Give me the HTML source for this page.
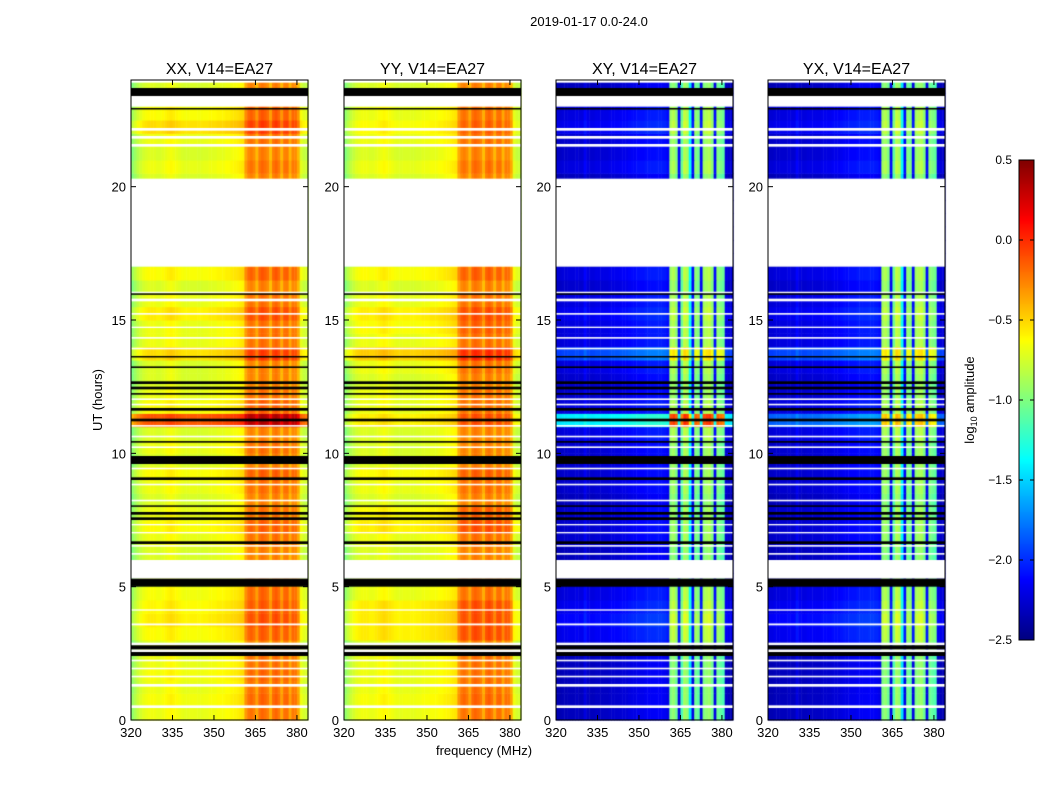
<!DOCTYPE html>
<html><head><meta charset="utf-8">
<style>
body{margin:0;background:#fff;width:1050px;height:800px;overflow:hidden;font-family:"Liberation Sans",sans-serif;}
#root{position:relative;width:1050px;height:800px;}
canvas{position:absolute;}
svg{position:absolute;left:0;top:0;}
</style></head>
<body>
<div id="root">
<canvas id="hm" width="1050" height="800" style="left:0;top:0"></canvas>
<svg id="ov" width="1050" height="800"></svg>
</div>
<script>
// ---- data ----
const panelTitles = ["XX, V14=EA27","YY, V14=EA27","XY, V14=EA27","YX, V14=EA27"];
const xTicks = [320,335,350,365,380];
const yTicks = [0,5,10,15,20];
const cbTicks = [0.5,0.0,-0.5,-1.0,-1.5,-2.0,-2.5];
const cbTickLabels = ["0.5","0.0","\u22120.5","\u22121.0","\u22121.5","\u22122.0","\u22122.5"];
// channel frequencies 320..383 (1 MHz)
const freqs = [320,321,322,323,324,325,326,327,328,329,330,331,332,333,334,335,336,337,338,339,340,341,342,343,344,345,346,347,348,349,350,351,352,353,354,355,356,357,358,359,360,361,362,363,364,365,366,367,368,369,370,371,372,373,374,375,376,377,378,379,380,381,382,383];
// parallel-hand spectral profile (log10 amp)
const parProfile = [-1.0,-0.92,-0.85,-0.8,-0.76,-0.74,-0.72,-0.72,-0.72,-0.74,-0.74,-0.72,-0.7,-0.68,-0.66,-0.68,-0.7,-0.72,-0.74,-0.75,-0.75,-0.74,-0.74,-0.74,-0.75,-0.75,-0.74,-0.74,-0.72,-0.72,-0.72,-0.7,-0.7,-0.7,-0.68,-0.68,-0.66,-0.65,-0.64,-0.62,-0.6,-0.38,-0.28,-0.25,-0.3,-0.42,-0.26,-0.22,-0.25,-0.3,-0.44,-0.26,-0.22,-0.28,-0.42,-0.26,-0.25,-0.42,-0.28,-0.3,-0.42,-0.75,-0.8,-0.82];
// cross-hand spectral profile
const crossProfile = [-2.35,-2.35,-2.33,-2.33,-2.32,-2.32,-2.32,-2.3,-2.32,-2.32,-2.22,-2.3,-2.32,-2.32,-2.3,-2.3,-2.3,-2.3,-2.3,-2.28,-2.27,-2.27,-2.27,-2.25,-2.24,-2.24,-2.22,-2.2,-2.2,-2.18,-2.18,-2.18,-2.16,-2.15,-2.15,-2.15,-2.14,-2.14,-2.15,-2.16,-2.2,-1.0,-0.95,-1.05,-2.2,-1.15,-0.9,-0.95,-1.45,-2.2,-1.05,-1.1,-2.2,-1.0,-0.95,-0.92,-1.05,-2.2,-1.05,-1.1,-1.15,-2.3,-2.33,-2.35];
// row level offsets per half-hour (48 slots, 0..24h)
const rowXX = [0.05,0.08,0.05,0.08,0.05,0.0,0.1,0.15,0.12,0.08,0,0,0,0.05,0.1,0.05,0.0,0.05,0.1,0,0.05,0,0.6,0.1,0.05,0,0,0.2,0.05,0.05,0.15,0.05,0,0.1,0,0,0,0,0,0,0,0.05,0,0.05,0.2,0.1,0.05,0];
const rowYY = [0.05,0.08,0.05,0.05,0.05,0.0,0.15,0.15,0.15,0.05,0,0,0,0.05,0.15,0.1,0.0,0.05,0.1,0,0,0,0.15,0.05,0.05,0,0.05,0.25,0.05,0.1,0.15,0.05,0,0.1,0,0,0,0,0,0,0,0.05,0,0.05,0.1,0.05,0.05,0];
const rowXY = [0,0,0,0,0,0.1,0.15,0.2,0.15,0.1,0,0,0,0.05,0.05,0.05,0,0.05,0.05,0.05,0.05,0.1,0.9,0.1,0.05,0.05,0.1,0.4,0.1,0.1,0.15,0.1,0.05,0.1,0,0,0,0,0,0,0,0.1,0.05,0.05,0.15,0.1,0.05,0];
const rowYX = [0,0,0,0,0,0.1,0.15,0.2,0.15,0.1,0,0,0,0.05,0.05,0.05,0,0.05,0.05,0.05,0.05,0.1,0.5,0.1,0.05,0.05,0.1,0.4,0.1,0.1,0.15,0.1,0.05,0.1,0,0,0,0,0,0,0,0.1,0.05,0.05,0.15,0.1,0.05,0];
// flagged time ranges (hours): white = no data, black = masked
const whiteFlags = [[0.45,0.55],[1.25,1.35],[1.6,1.66],[1.9,1.96],[2.2,2.26],[2.55,2.65],[2.8,2.9],[3.55,3.62],[4.1,4.15],[5.3,6.0],[6.2,6.26],[6.5,6.56],[7.0,7.05],[7.3,7.35],[8.2,8.26],[8.8,8.86],[9.4,9.46],[10.2,10.26],[10.6,10.66],[11.0,11.06],[11.8,11.86],[12.0,12.06],[13.9,13.96],[14.3,14.36],[14.7,14.75],[15.2,15.26],[15.7,15.8],[16.0,16.06],[17.0,20.3],[21.5,21.6],[21.8,21.9],[22.1,22.2],[23.0,23.4],[23.9,24.0]];
const blackFlags = [[2.4,2.55],[2.65,2.8],[5.0,5.3],[6.6,6.7],[7.5,7.6],[7.7,7.8],[8.0,8.05],[9.0,9.1],[9.6,9.9],[10.4,10.46],[11.2,11.3],[11.6,11.7],[12.2,12.26],[12.4,12.5],[12.6,12.7],[13.2,13.26],[13.6,13.65],[15.95,16.0],[22.9,22.95],[23.4,23.7]];

// ---- layout ----
const panelX = [131,344,556,768];
const PW = 177, PT = 80, PH = 640;
const xMin = 320, xMax = 384, yMin = 0, yMax = 24, vMin = -2.5, vMax = 0.5;
const profiles = [parProfile, parProfile, crossProfile, crossProfile];
const rowSets = [rowXX, rowYY, rowXY, rowYX];

function xs(p, f){ return panelX[p] + (f - xMin) / (xMax - xMin) * PW; }
function ys(h){ return PT + PH - (h - yMin) / (yMax - yMin) * PH; }
function jet(v){
  let t = Math.max(0, Math.min(1, (v - vMin) / (vMax - vMin)));
  const c = x => Math.round(255 * Math.max(0, Math.min(1, x)));
  return `rgb(${c(1.5-Math.abs(4*t-3))},${c(1.5-Math.abs(4*t-2))},${c(1.5-Math.abs(4*t-1))})`;
}
const ctx = document.getElementById('hm').getContext('2d');
for (let p=0;p<4;p++){
  const prof = profiles[p], rows = rowSets[p];
  for (let r=0;r<rows.length;r++){
    const h0 = r*0.5, h1 = h0+0.5;
    for (let i=0;i<freqs.length;i++){
      ctx.fillStyle = jet(prof[i] + rows[r]);
      const x0 = xs(p, freqs[i]), x1 = xs(p, freqs[i]+1);
      ctx.fillRect(x0, ys(h1), x1-x0+0.5, ys(h0)-ys(h1)+0.5);
    }
  }
  ctx.fillStyle = '#fff';
  whiteFlags.forEach(f => ctx.fillRect(panelX[p], ys(f[1]), PW, ys(f[0])-ys(f[1])));
  ctx.fillStyle = '#000';
  blackFlags.forEach(f => ctx.fillRect(panelX[p], ys(f[1]), PW, Math.max(1.5, ys(f[0])-ys(f[1]))));
}
// colorbar
const CBX = 1019, CBW = 15, CBT = 160, CBH = 480;
for (let k=0;k<CBH;k++){
  ctx.fillStyle = jet(vMax - (k+0.5)/CBH*(vMax-vMin));
  ctx.fillRect(CBX, CBT+k, CBW, 1);
}

// ---- overlay ----
const svg = document.getElementById('ov');
const NS = 'http://www.w3.org/2000/svg';
function mk(tag, attrs, text){
  const e = document.createElementNS(NS, tag);
  for (const k in attrs) e.setAttribute(k, attrs[k]);
  if (text !== undefined) e.textContent = text;
  svg.appendChild(e); return e;
}
let t = mk('text',{x:589,y:26,'font-size':13,'text-anchor':'middle','font-family':'Liberation Sans'},'2019-01-17 0.0-24.0');


for (let p=0;p<4;p++){
  const x0 = panelX[p];
  const fr = mk('rect',{x:x0,y:PT,width:PW,height:PH,fill:'none',stroke:'#000','stroke-width':1});
  
  
  const tt = mk('text',{x:x0+PW/2,y:74,'font-size':16,'text-anchor':'middle','font-family':'Liberation Sans'},panelTitles[p]);
  
  
  xTicks.forEach(v=>{
    const x = xs(p,v);
    mk('line',{x1:x,x2:x,y1:PT+PH,y2:PT+PH-5,stroke:'#000'});
    mk('line',{x1:x,x2:x,y1:PT,y2:PT+5,stroke:'#000'});
    const l = mk('text',{x:x,y:PT+PH+17,'font-size':13,'text-anchor':'middle','font-family':'Liberation Sans'},String(v));
    
    
  });
  yTicks.forEach(v=>{
    const y = ys(v);
    mk('line',{x1:x0,x2:x0+5,y1:y,y2:y,stroke:'#000'});
    mk('line',{x1:x0+PW,x2:x0+PW-5,y1:y,y2:y,stroke:'#000'});
    const l = mk('text',{x:x0-5,y:y+5,'font-size':13,'text-anchor':'end','font-family':'Liberation Sans'},String(v));
    
    
  });
}
t = mk('text',{x:484,y:755,'font-size':13,'text-anchor':'middle','font-family':'Liberation Sans'},'frequency (MHz)');


t = mk('text',{x:102,y:400,'font-size':13,'text-anchor':'middle','font-family':'Liberation Sans',transform:'rotate(-90 102 400)'},'UT (hours)');


const cb = mk('rect',{x:CBX,y:CBT,width:CBW,height:CBH,fill:'none',stroke:'#000'});


cbTicks.forEach((v,i)=>{
  const y = CBT + (vMax - v)/(vMax - vMin)*CBH;
  mk('line',{x1:CBX,x2:CBX+4,y1:y,y2:y,stroke:'#000'});
  mk('line',{x1:CBX+CBW,x2:CBX+CBW-4,y1:y,y2:y,stroke:'#000'});
  const l = mk('text',{x:1012,y:y+4,'font-size':12,'text-anchor':'end','font-family':'Liberation Sans'},cbTickLabels[i]);
  
  
});
t = mk('text',{x:974,y:400,'font-size':13,'text-anchor':'middle','font-family':'Liberation Sans',transform:'rotate(-90 974 400)'});


const s1 = document.createElementNS(NS,'tspan'); s1.textContent='log'; t.appendChild(s1);
const s2 = document.createElementNS(NS,'tspan'); s2.setAttribute('font-size','9'); s2.setAttribute('dy','3'); s2.textContent='10'; t.appendChild(s2);
const s3 = document.createElementNS(NS,'tspan'); s3.setAttribute('dy','-3'); s3.textContent=' amplitude'; t.appendChild(s3);
</script>
</body></html>
